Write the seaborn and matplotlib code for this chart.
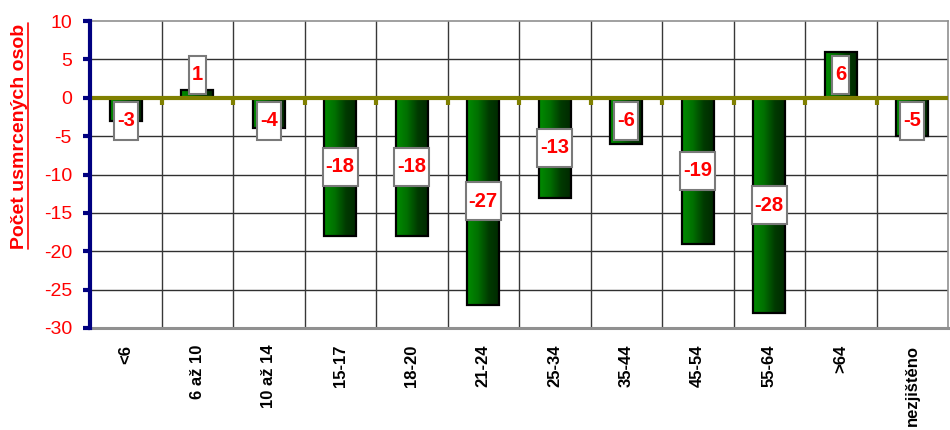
import numpy as np
import pandas as pd
import matplotlib
matplotlib.use('Agg')
import matplotlib.pyplot as plt
import seaborn as sns
from matplotlib.patches import Rectangle
from matplotlib.colors import LinearSegmentedColormap
from matplotlib.lines import Line2D

categories = ['<6', '6 až 10', '10 až 14', '15-17', '18-20', '21-24', '25-34',
              '35-44', '45-54', '55-64', '>64', 'nezjištěno']
values = [-3, 1, -4, -18, -18, -27, -13, -6, -19, -28, 6, -5]
y_ticks = [-30, -25, -20, -15, -10, -5, 0, 5, 10]
y_label = 'Počet usmrcených osob'

sns.set_theme(style='white')
plt.rcParams['font.family'] = ['Liberation Sans', 'DejaVu Sans']

W, H = 950, 430
fig = plt.figure(figsize=(W / 100, H / 100), dpi=100)
fig.patch.set_facecolor('white')
ax = fig.add_axes([90 / W, 1 - 328 / H, (948 - 90) / W, (328 - 21) / H])

df = pd.DataFrame({'cat': categories, 'val': values})
sns.barplot(data=df, x='cat', y='val', order=categories, color='#006600',
            saturation=1, width=0.45, edgecolor='black', linewidth=1.6,
            ax=ax, zorder=3)

ax.set_xlim(-0.5, len(categories) - 0.5)
ax.set_ylim(-30, 10)

# gradient fill for bars
cmap = LinearSegmentedColormap.from_list('g', ['#008c00', '#007000', '#003a00', '#002800'])
grad = np.linspace(0, 1, 256).reshape(1, -1)
for p in list(ax.patches):
    x, y, w, h = p.get_x(), p.get_y(), p.get_width(), p.get_height()
    y0, y1 = min(y, y + h), max(y, y + h)
    im = ax.imshow(grad, extent=[x, x + w, y0, y1], aspect='auto', cmap=cmap,
                   zorder=3, interpolation='bilinear')
    im.set_clip_path(p)
    p.set_facecolor('none')
    p.set_zorder(4)

ax.set_xlim(-0.5, len(categories) - 0.5)
ax.set_ylim(-30, 10)
ax.set_aspect('auto')

# grid
for yv in [5, -5, -10, -15, -20, -25]:
    ax.axhline(yv, color='#303030', lw=1, zorder=1)
for xv in np.arange(0.5, len(categories) - 0.5):
    ax.axvline(xv, color='#383838', lw=1, zorder=1)

# zero line with small ticks
ax.axhline(0, color='#808000', lw=3, zorder=5)
ax.vlines(np.arange(0.5, len(categories) - 0.5), -1.0, 0, color='#808000',
          lw=3, zorder=5)

# spines
for s in ['top', 'right']:
    ax.spines[s].set_color('#909090')
    ax.spines[s].set_linewidth(1.2)
ax.spines['bottom'].set_color('#909090')
ax.spines['bottom'].set_linewidth(2.2)
ax.spines['left'].set_color('#000080')
ax.spines['left'].set_linewidth(3)
ax.spines['left'].set_zorder(6)

ax.set_yticks(y_ticks)
ax.set_yticklabels([str(v) for v in y_ticks])
ax.tick_params(axis='y', left=True, direction='out', length=5, width=3,
               color='#000080', labelcolor='red', labelsize=14, pad=8)
ax.set_xticks(range(len(categories)))
ax.set_xticklabels(categories, rotation=90, fontweight='bold', fontsize=12,
                   color='black', va='top', ha='center')
ax.tick_params(axis='x', length=0, pad=12)
ax.set_xlabel('')
ax.set_ylabel('')

# value labels
texts = []
for i, v in enumerate(values):
    yc = np.sign(v) * max(abs(v) / 2, 3)
    t = ax.text(i, yc, str(v), ha='center', va='center', color='red',
                fontweight='bold', fontsize=14.5, zorder=8)
    texts.append((t, i, yc))

ylab = fig.text(20 / W, 1 - 136 / H, y_label, rotation=90, ha='center',
                va='center', color='red', fontweight='bold', fontsize=14)

fig.canvas.draw()
r = fig.canvas.get_renderer()
inv = ax.transData.inverted()
for t, i, yc in texts:
    bb = t.get_window_extent(r)
    cx, cy = ax.transData.transform((i, yc))
    bw = bb.width + 6
    bh = 38
    (x0, y0) = inv.transform((cx - bw / 2, cy - bh / 2))
    (x1, y1) = inv.transform((cx + bw / 2, cy + bh / 2))
    ax.add_patch(Rectangle((x0, y0), x1 - x0, y1 - y0, facecolor='white',
                           edgecolor='#7a7a7a', lw=1.5, zorder=7))

bb = ylab.get_window_extent(r)
ux = (bb.x1 - 1) / W
fig.add_artist(Line2D([ux, ux], [bb.y0 / H, bb.y1 / H], color='red', lw=1.2,
                      transform=fig.transFigure))

fig.savefig('out.png', dpi=100, facecolor='white')
